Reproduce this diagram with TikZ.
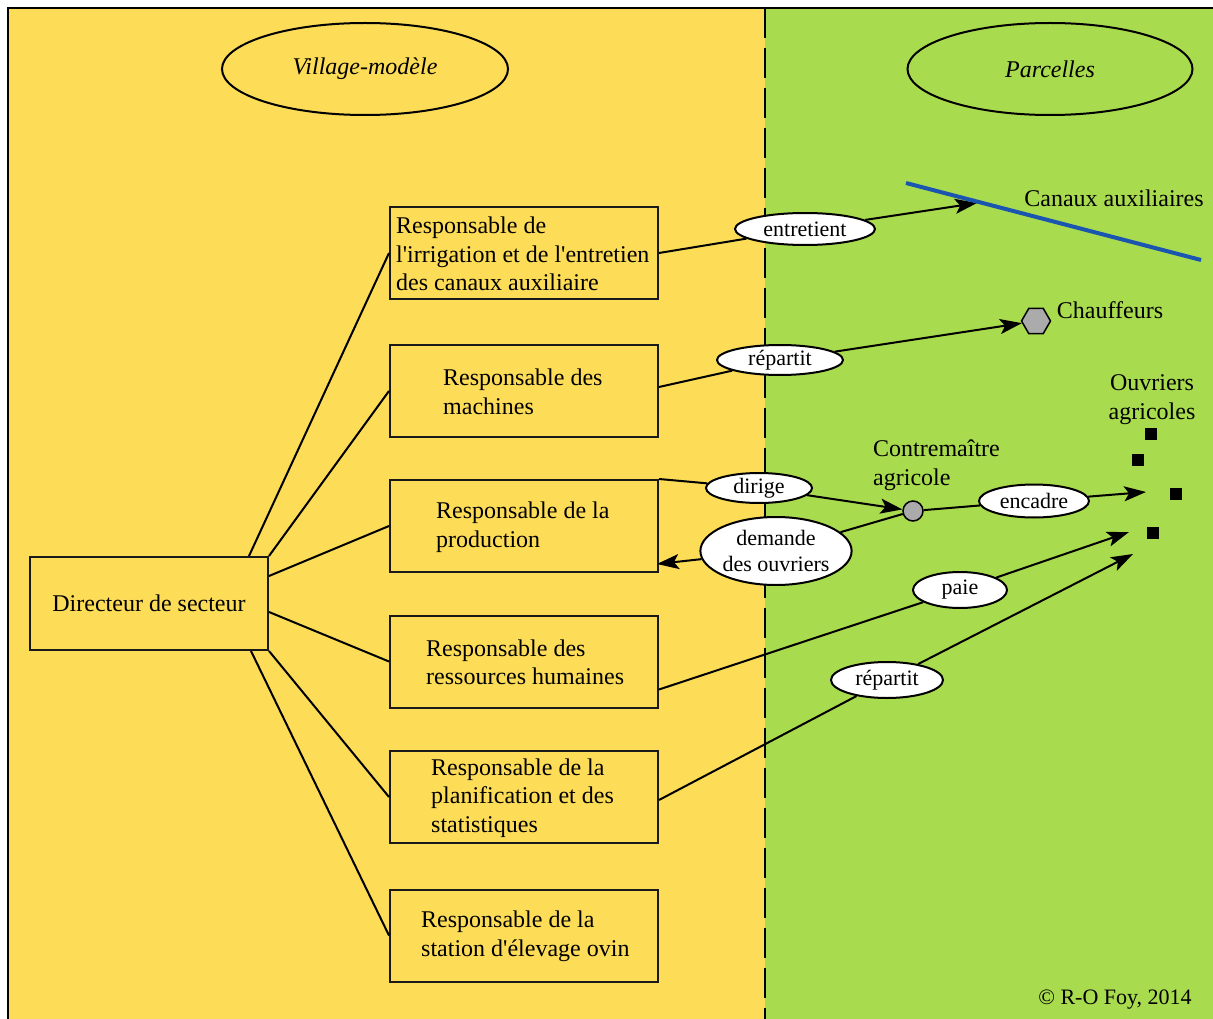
\documentclass[tikz,border=0pt]{standalone}
\usepackage{fontspec}
\setmainfont{Liberation Serif}
\usetikzlibrary{shapes.geometric,arrows.meta}
\definecolor{jaune}{HTML}{FDDC58}
\definecolor{vert}{HTML}{A9DB4F}
\definecolor{bleu}{HTML}{1A55B0}
\definecolor{gris}{HTML}{ABABAB}
\newcommand\apos{\textquotesingle}
\begin{document}
\begin{tikzpicture}[x=1pt,y=-1pt,
 box/.style={draw=black!90, line width=2pt, minimum width=268pt, minimum height=92pt, inner sep=0pt},
 btxt/.style={font=\fontsize{24}{28.5}\selectfont, align=left, inner sep=0pt, anchor=west},
 lab/.style={ellipse, draw, fill=white, line width=2pt, inner sep=0pt, font=\fontsize{22}{26}\selectfont, align=center},
 zone/.style={ellipse, draw, line width=2pt, minimum width=286pt, minimum height=92pt, inner sep=0pt, font=\fontsize{24}{29}\selectfont\itshape},
 link/.style={line width=2pt},
 arr/.style={line width=2pt, -{Stealth[length=22pt,width=15pt,inset=5pt]}},
 rtxt/.style={font=\fontsize{24}{29}\selectfont, inner sep=0pt, align=center},
 worker/.style={fill=black, minimum size=12pt, inner sep=0pt},
]
\useasboundingbox (0,0) rectangle (1213,1019);
\fill[white] (0,0) rectangle (1213,1019);
\fill[jaune] (8,8) rectangle (765,1019);
\fill[vert] (765,8) rectangle (1213,1019);
\draw[line width=2.7pt] (8,1019) -- (8,8) -- (1213,8);
\draw[line width=2pt, dash pattern=on 30pt off 10pt] (765,8) -- (765,1019);

% zones
\node[zone] (vm) at (365,69) {Village-modèle};
\node[zone, minimum width=285pt] (pc) at (1050,69) {Parcelles};

% director and boxes
\node[box, minimum width=238pt, minimum height=93pt, font=\fontsize{24}{29}\selectfont] (dir) at (149,603.5) {Directeur de secteur};
\node[box] (b1) at (524,253) {};
\node[box] (b2) at (524,391) {};
\node[box] (b3) at (524,526) {};
\node[box] (b4) at (524,661.5) {};
\node[box] (b5) at (524,797) {};
\node[box] (b6) at (524,935.5) {};
\node[btxt] (t1) at (396,254) {Responsable de\\l\apos irrigation et de l\apos entretien\\des canaux auxiliaire};
\node[btxt] (t2) at (443,392) {Responsable des\\machines};
\node[btxt] (t3) at (436,527) {Responsable de la\\production};
\node[btxt] (t4) at (426,662.5) {Responsable des\\ressources humaines};
\node[btxt] (t5) at (431,798) {Responsable de la\\planification et des\\statistiques};
\node[btxt] (t6) at (421,936.5) {Responsable de la\\station d\apos élevage ovin};

\draw[link] ([xshift=-20pt]dir.north east) -- (b1.west);
\draw[link] (dir.north east) -- (b2.west);
\draw[link] ([yshift=-20pt]dir.north east) -- (b3.west);
\draw[link] ([yshift=-8.5pt]dir.east) -- (b4.west);
\draw[link] (dir.south east) -- (b5.west);
\draw[link] ([xshift=-18pt]dir.south east) -- (b6.west);

% right side targets
\node[rtxt] (canaux) at (1114,198) {Canaux auxiliaires};
\node[regular polygon, regular polygon sides=6, draw, fill=gris, line width=1.5pt, minimum size=29pt, inner sep=0pt] (hex) at (1036,321) {};
\node[rtxt] (chauf) at (1110,310) {Chauffeurs};
\node[rtxt] (ouvt) at (1152,399.5) {Ouvriers\\agricoles};
\node[worker] (w1) at (1151,434) {};
\node[worker] (w2) at (1138,460) {};
\node[worker] (w3) at (1176,494) {};
\node[worker] (w4) at (1153,533) {};
\node[circle, draw, fill=gris, line width=1.5pt, minimum size=20pt, inner sep=0pt] (cm) at (913,511) {};
\node[rtxt, align=left, anchor=west] (cmt) at (873,465.5) {Contremaître\\agricole};

% labels
\node[lab, minimum width=140pt, minimum height=32pt] (e1) at (805,229) {entretient};
\node[lab, minimum width=126pt, minimum height=30pt] (e2) at (780,360) {répartit};
\node[lab, minimum width=106pt, minimum height=30pt] (e3) at (759,488) {dirige};
\node[lab, minimum width=110pt, minimum height=33pt] (e4) at (1034,501) {encadre};
\node[lab, minimum width=150pt, minimum height=68pt] (e5) at (776,551) {demande\\des ouvriers};
\node[lab, minimum width=94pt, minimum height=36pt] (e6) at (960,590) {paie};
\node[lab, minimum width=112pt, minimum height=36pt] (e7) at (887,680) {répartit};

\coordinate (canal) at (977,203);
\coordinate (o1) at (1146,492);
\coordinate (o2) at (1129,532);
\coordinate (o3) at (1133,554);
\coordinate (b3in) at (657,564);

\draw[link] (b1.east) -- (e1);
\draw[arr] (e1) -- (canal);
\draw[bleu, line width=4pt] (906,183) -- (1201,260);
\draw[link] ([yshift=4pt]b2.east) -- (e2);
\draw[arr] (e2) -- (hex);
\draw[link] (b3.north east) -- (e3);
\draw[arr] (e3) -- (cm);
\draw[link] (cm) -- (e4);
\draw[arr] (e4) -- (o1);
\draw[link] (cm) -- (e5);
\draw[arr] (e5) -- (b3in);
\draw[link] ([yshift=-28pt]b4.east) -- (e6);
\draw[arr] (e6) -- (o2);
\draw[link] ([yshift=-3pt]b5.east) -- (e7);
\draw[arr] (e7) -- (o3);

\node[font=\fontsize{22}{26}\selectfont, inner sep=0pt] (cr) at (1115,1000) {© R-O Foy, 2014};
\end{tikzpicture}
\end{document}
